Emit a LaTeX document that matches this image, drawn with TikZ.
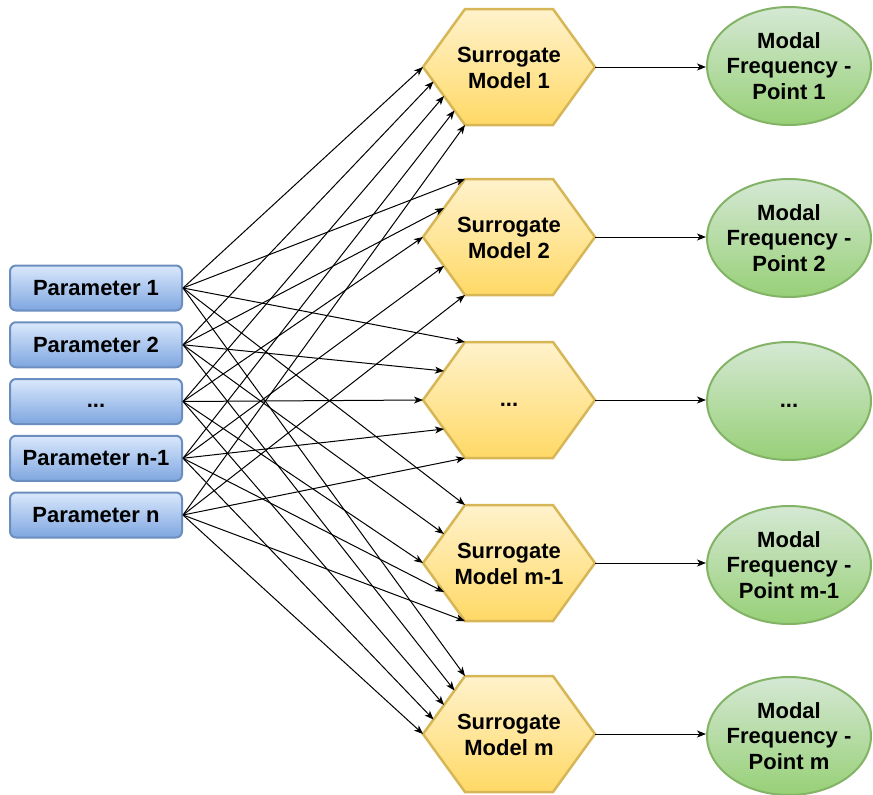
\documentclass[tikz,border=0pt]{standalone}
\usepackage{fontspec}
\setmainfont{Liberation Sans}
\usetikzlibrary{arrows.meta,calc,shapes.geometric}

\definecolor{paramTop}{HTML}{DAE8FC}
\definecolor{paramBot}{HTML}{7EA6E0}
\definecolor{paramLine}{HTML}{6C8EBF}
\definecolor{hexTop}{HTML}{FFF2CC}
\definecolor{hexBot}{HTML}{FFD966}
\definecolor{hexLine}{HTML}{D6B656}
\definecolor{resTop}{HTML}{D5E8D4}
\definecolor{resBot}{HTML}{97D077}
\definecolor{resLine}{HTML}{82B366}

% ellipsis placed on the line's baseline, below the node centre
\newcommand{\lowdots}{\smash{\raisebox{-6pt}{...}}}

\begin{document}
\begin{tikzpicture}[x=1pt,y=-1pt,
  lbl/.style={font=\fontsize{22}{25.5}\selectfont\bfseries, align=center, text=black},
  param/.style={lbl, rectangle, draw=paramLine, line width=2pt, rounded corners=6pt,
    top color=paramTop, bottom color=paramBot,
    minimum width=172pt, minimum height=45pt, inner sep=0pt},
  hexbody/.style={draw=hexLine, line width=2.5pt, top color=hexTop, bottom color=hexBot},
  hexlabel/.style={lbl, rectangle, minimum width=172pt, minimum height=116pt, inner sep=0pt},
  result/.style={lbl, ellipse, draw=resLine, line width=2pt,
    top color=resTop, bottom color=resBot,
    minimum width=164pt, minimum height=118pt, inner xsep=-14pt, inner ysep=0pt},
  link/.style={line width=1pt, -{Stealth[length=9pt,width=7pt,inset=2.5pt]}},
]
\useasboundingbox (0,0) rectangle (873,795);

% input parameters
\node[param] (p1) at (96,288)    {Parameter 1};
\node[param] (p2) at (96,344.75) {Parameter 2};
\node[param] (p3) at (96,401.5)  {\lowdots};
\node[param] (p4) at (96,458.25) {Parameter n-1};
\node[param] (p5) at (96,515)    {Parameter n};

% surrogate models: hexagon bodies with label nodes on top
\foreach \c in {67,237,400,563,734}
  \path[hexbody] (423,\c) -- (465,\c-58) -- (553,\c-58) -- (595,\c)
                 -- (553,\c+58) -- (465,\c+58) -- cycle;
\node[hexlabel] (s1) at (509,68)  {Surrogate\\Model 1};
\node[hexlabel] (s2) at (509,238) {Surrogate\\Model 2};
\node[hexlabel] (s3) at (509,400) {\lowdots};
\node[hexlabel] (s4) at (509,564) {Surrogate\\Model m-1};
\node[hexlabel] (s5) at (509,735) {Surrogate\\Model m};

% corners of each hexagon's left side, and its right tip
\foreach \k/\c in {1/67,2/237,3/400,4/563,5/734} {
  \coordinate (tl\k) at (465,\c-58);
  \coordinate (lt\k) at (423,\c);
  \coordinate (bl\k) at (465,\c+58);
  \coordinate (rt\k) at (595,\c);
}

% outputs
\node[result] (r1) at (789,66)  {Modal\\Frequency -\\Point 1};
\node[result] (r2) at (789,238) {Modal\\Frequency -\\Point 2};
\node[result] (r3) at (789,401) {\lowdots};
\node[result] (r4) at (789,565) {Modal\\Frequency -\\Point m-1};
\node[result] (r5) at (789,736) {Modal\\Frequency -\\Point m};

% every parameter feeds every surrogate model
\foreach \f [count=\i] in {0,0.25,0.5,0.75,1}
  \draw[link] (p\i.east) -- ($(lt1)!\f!(bl1)$);
\foreach \k in {2,3,4} {
  \draw[link] (p1.east) -- (tl\k);
  \draw[link] (p2.east) -- ($(tl\k)!0.5!(lt\k)$);
  \draw[link] (p3.east) -- (lt\k);
  \draw[link] (p4.east) -- ($(lt\k)!0.5!(bl\k)$);
  \draw[link] (p5.east) -- (bl\k);
}
\foreach \f [count=\i] in {0,0.25,0.5,0.75,1}
  \draw[link] (p\i.east) -- ($(tl5)!\f!(lt5)$);

% each model predicts one modal frequency
\foreach \k in {1,...,5}
  \draw[link] (rt\k) -- (rt\k -| r\k.west);
\end{tikzpicture}
\end{document}
